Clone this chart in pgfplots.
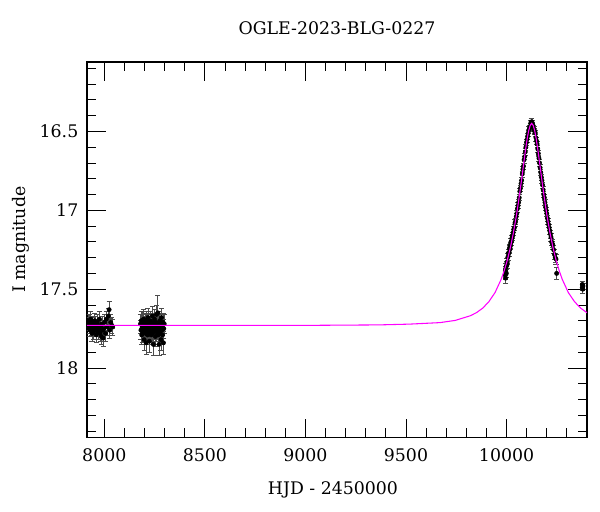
\documentclass[border=0pt]{standalone}
\usepackage{fontspec}
\setmainfont{DejaVu Serif}
\usepackage{pgfplots}
\pgfplotsset{compat=1.18}
\definecolor{modelmag}{rgb}{1,0,1}
\pgfplotsset{obs/.style={only marks, mark=*, mark size=1.6pt, black, mark options={fill=black},
 error bars/.cd, y dir=both, y explicit,
 error bar style={line width=0.5pt, black!70},
 error mark options={rotate=90, mark size=1.9pt, black!70, line width=0.5pt}}}

\begin{document}
\fontsize{13}{15}\selectfont
\begin{tikzpicture}
\begin{axis}[name=ax, scale only axis, width=375pt, height=281.6pt,
 xmin=7914, xmax=10400, ymin=16.06, ymax=18.44, y dir=reverse,
 clip marker paths=true,
 scaled x ticks=false,
 xtick={8000,8500,9000,9500,10000},
 minor xtick={7900,8000,...,10400},
 ytick={16.5,17,17.5,18},
 minor ytick={16.1,16.2,16.3,16.4,16.6,16.7,16.8,16.9,17.1,17.2,17.3,17.4,17.6,17.7,17.8,17.9,18.1,18.2,18.3,18.4},
 tick align=inside, major tick length=14pt, minor tick length=7pt,
 tick style={black, line width=0.6pt},
 axis line style={line width=0.8pt},
 /pgf/number format/assume math mode=true,
 /pgf/number format/set thousands separator={},
 xticklabel style={yshift=-4pt, /pgf/number format/fixed},
 yticklabel style={xshift=-2pt},
 title={OGLE-2023-BLG-0227},
 title style={at={(axis description cs:0.5,1)}, anchor=base, yshift=14.25pt},
 xlabel={HJD - 2450000},
 xlabel style={at={(axis description cs:0.492,-0.1506)}, anchor=base},
 ylabel={I magnitude},
 ylabel style={at={(axis description cs:-0.122,0.5266)}, anchor=base, rotate=0},
]
% season 1
\addplot[obs] table[x=t, y=m, y error=e] {
t m e
7921 17.72 0.04
7923 17.70 0.04
7925 17.74 0.04
7927 17.71 0.05
7929 17.76 0.04
7931 17.73 0.04
7933 17.69 0.05
7935 17.75 0.04
7937 17.72 0.04
7939 17.78 0.05
7941 17.74 0.04
7943 17.71 0.04
7945 17.77 0.05
7948 17.73 0.04
7950 17.75 0.04
7952 17.70 0.05
7955 17.76 0.04
7957 17.72 0.05
7960 17.79 0.05
7962 17.74 0.04
7965 17.71 0.05
7968 17.77 0.05
7970 17.73 0.04
7973 17.75 0.05
7976 17.69 0.05
7979 17.78 0.05
7982 17.74 0.05
7985 17.80 0.05
7988 17.72 0.05
7991 17.76 0.05
7994 17.81 0.05
7998 17.75 0.05
8002 17.71 0.05
8006 17.78 0.05
8010 17.69 0.05
8015 17.74 0.05
8020 17.67 0.05
8024 17.63 0.055
8027 17.76 0.05
8032 17.71 0.05
8038 17.73 0.05
8042 17.74 0.05
};
% season 2
\addplot[obs] table[x=t, y=m, y error=e] {
t m e
8180 17.72 0.06
8182 17.76 0.06
8184 17.70 0.06
8186 17.79 0.06
8188 17.74 0.06
8190 17.70 0.06
8191 17.78 0.06
8193 17.72 0.06
8195 17.76 0.06
8196 17.69 0.06
8198 17.82 0.07
8200 17.73 0.06
8201 17.75 0.06
8203 17.71 0.06
8205 17.78 0.06
8206 17.74 0.06
8208 17.84 0.07
8210 17.70 0.06
8212 17.76 0.06
8213 17.73 0.06
8215 17.79 0.06
8217 17.68 0.06
8219 17.75 0.06
8220 17.72 0.06
8222 17.77 0.06
8224 17.83 0.07
8226 17.74 0.06
8227 17.70 0.06
8229 17.76 0.06
8231 17.73 0.06
8233 17.79 0.06
8235 17.71 0.06
8237 17.75 0.06
8239 17.67 0.06
8240 17.78 0.06
8242 17.74 0.06
8244 17.85 0.07
8246 17.72 0.06
8248 17.76 0.06
8250 17.69 0.06
8252 17.74 0.06
8254 17.80 0.06
8256 17.71 0.06
8258 17.77 0.06
8260 17.66 0.06
8262 17.75 0.06
8264 17.73 0.06
8266 17.65 0.11
8268 17.79 0.06
8270 17.72 0.06
8272 17.85 0.07
8274 17.76 0.06
8276 17.70 0.06
8278 17.78 0.06
8280 17.74 0.06
8282 17.82 0.07
8284 17.68 0.06
8286 17.76 0.06
8288 17.73 0.06
8290 17.79 0.06
8292 17.71 0.06
8294 17.84 0.07
8296 17.75 0.06
8298 17.72 0.06
};
% event season
\addplot[obs] table[x=t, y=m, y error=e] {
t m e
9993 17.41 0.025
9994 17.38 0.025
9995 17.43 0.03
9996 17.39 0.025
9997 17.36 0.025
9999 17.40 0.025
10000 17.35 0.025
10002 17.33 0.025
10004 17.34 0.025
10006 17.30 0.025
10008 17.29 0.025
10010 17.27 0.025
10012 17.27 0.025
10014 17.24 0.025
10016 17.25 0.025
10018 17.23 0.02
10020 17.22 0.02
10022 17.20 0.02
10024 17.20 0.02
10026 17.18 0.02
10028 17.17 0.02
10030 17.16 0.02
10033 17.14 0.02
10036 17.12 0.02
10039 17.11 0.02
10042 17.08 0.02
10045 17.07 0.02
10048 17.04 0.02
10051 17.02 0.02
10054 16.99 0.02
10057 16.97 0.02
10060 16.95 0.02
10063 16.92 0.02
10066 16.88 0.02
10069 16.86 0.02
10072 16.83 0.02
10075 16.81 0.02
10078 16.77 0.02
10081 16.74 0.02
10084 16.72 0.02
10087 16.68 0.02
10090 16.66 0.02
10093 16.63 0.02
10096 16.60 0.02
10099 16.57 0.02
10102 16.55 0.02
10105 16.53 0.02
10108 16.51 0.02
10111 16.49 0.02
10114 16.48 0.02
10117 16.47 0.02
10120 16.45 0.02
10122 16.44 0.02
10124 16.46 0.02
10126 16.44 0.02
10128 16.45 0.02
10131 16.46 0.02
10134 16.48 0.02
10137 16.49 0.02
10140 16.50 0.02
10143 16.51 0.02
10146 16.54 0.02
10149 16.56 0.02
10152 16.58 0.02
10155 16.61 0.02
10158 16.64 0.02
10161 16.67 0.02
10164 16.70 0.02
10167 16.73 0.02
10170 16.76 0.02
10173 16.79 0.02
10176 16.81 0.02
10179 16.84 0.02
10182 16.87 0.02
10185 16.90 0.02
10188 16.92 0.02
10191 16.95 0.02
10194 16.98 0.02
10197 17.00 0.02
10200 17.02 0.02
10203 17.05 0.02
10206 17.07 0.02
10209 17.09 0.02
10212 17.11 0.02
10215 17.13 0.025
10218 17.15 0.025
10221 17.17 0.025
10224 17.20 0.025
10227 17.21 0.025
10230 17.22 0.025
10234 17.25 0.025
10238 17.28 0.03
10242 17.30 0.03
10246 17.31 0.03
10249 17.40 0.04
10376 17.49 0.02
10377 17.47 0.02
10379 17.50 0.025
10380 17.48 0.02
};
% model
\addplot[modelmag, line width=0.8pt] coordinates {
(7914,17.730) (8605,17.730) (9061,17.729) (9365,17.7265) (9517,17.7216)
(9669,17.712) (9745,17.698) (9821,17.668) (9851.4,17.648) (9881.8,17.620)
(9912.2,17.579) (9942.6,17.522) (9973,17.438) (9988.2,17.383) (10003.4,17.318)
(10018.6,17.239) (10033.8,17.144) (10049,17.033) (10056.6,16.970) (10064.2,16.903)
(10071.8,16.833) (10079.4,16.760) (10087,16.686) (10094.6,16.614) (10102.2,16.549)
(10109.8,16.497) (10117.4,16.462) (10125,16.449) (10132.6,16.462) (10140.2,16.497)
(10147.8,16.549) (10155.4,16.614) (10163,16.686) (10170.6,16.760) (10178.2,16.833)
(10185.8,16.903) (10193.4,16.970) (10201,17.033) (10216.2,17.144) (10231.4,17.239)
(10246.6,17.318) (10261.8,17.383) (10277,17.438) (10307.4,17.522) (10337.8,17.579)
(10368.2,17.620) (10398.6,17.648) (10400,17.649)
};
\end{axis}
\pgfresetboundingbox
\path[use as bounding box] ([shift={(-65.25pt,-55.9pt)}]ax.south west) rectangle ([shift={(9.75pt,46.5pt)}]ax.north east);
\end{tikzpicture}
\end{document}
